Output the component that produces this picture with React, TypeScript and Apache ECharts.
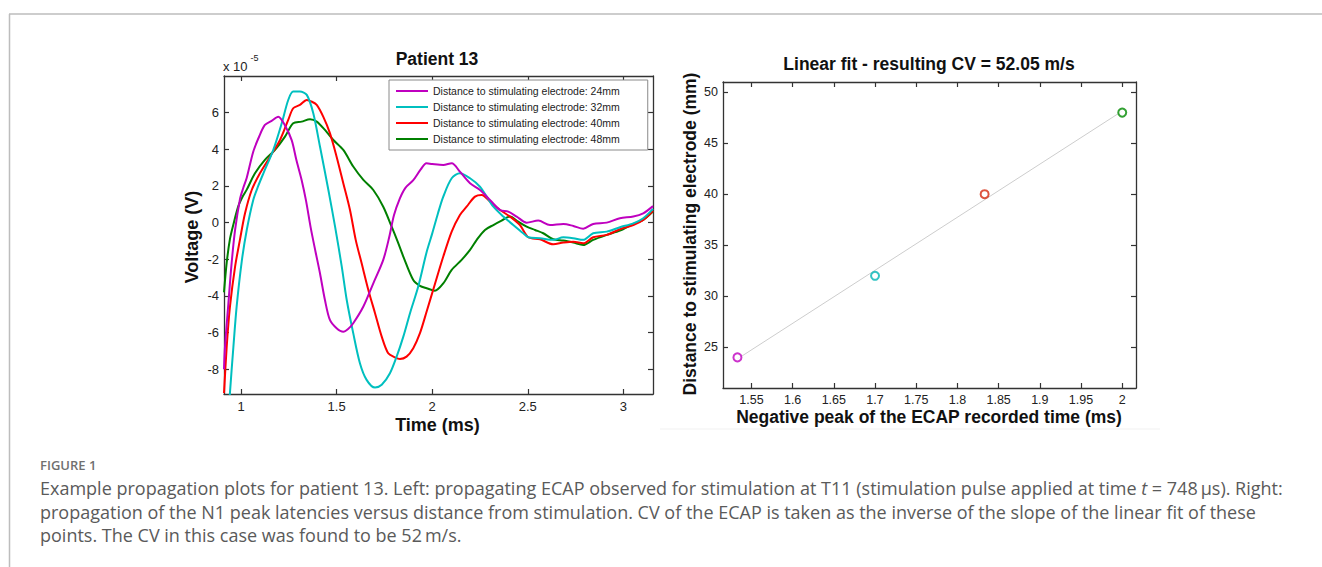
import React, { useEffect, useRef } from "react";
import * as echarts from "echarts";

// ---- Data (voltage values in units of 1e-5 V, time in ms) ----
const seriesNames = [
  "Distance to stimulating electrode: 24mm",
  "Distance to stimulating electrode: 32mm",
  "Distance to stimulating electrode: 40mm",
  "Distance to stimulating electrode: 48mm",
];
const seriesColors = ["#bf00bf", "#00bfbf", "#ff0000", "#008000"];

const ecap24: [number, number][] = [
  [0.911, -8.0], [0.916, -6.8], [0.934, -4.4], [0.951, -2.2], [0.969, -0.4], [0.995, 1.3], [1.012, 1.9],
  [1.03, 2.45], [1.064, 3.87], [1.095, 4.7], [1.125, 5.33], [1.16, 5.55], [1.195, 5.78], [1.23, 5.3],
  [1.265, 4.5], [1.29, 3.4], [1.317, 2.33], [1.34, 1.2], [1.365, -0.3], [1.39, -1.6], [1.413, -2.76],
  [1.439, -4.22], [1.465, -5.31], [1.5, -5.76], [1.535, -5.95], [1.56, -5.8], [1.587, -5.49], [1.64, -4.58],
  [1.692, -3.31], [1.744, -2.03], [1.775, -0.8], [1.8, 0.4], [1.83, 1.3], [1.86, 1.9], [1.9, 2.3],
  [1.94, 2.9], [1.97, 3.24], [2.0, 3.2], [2.058, 3.15], [2.102, 3.24], [2.145, 2.78], [2.198, 2.15],
  [2.25, 1.78], [2.302, 1.24], [2.355, 0.69], [2.398, 0.6], [2.442, 0.33], [2.494, 0.0], [2.555, 0.11],
  [2.616, -0.13], [2.686, -0.07], [2.738, -0.18], [2.79, -0.33], [2.842, -0.07], [2.913, 0.0], [2.982, 0.24],
  [3.052, 0.33], [3.104, 0.51], [3.155, 0.9],
];
const ecap32: [number, number][] = [
  [0.935, -10.5], [0.942, -9.3], [0.96, -6.8], [0.977, -4.6], [1.004, -2.1], [1.03, -0.4], [1.064, 1.24],
  [1.09, 2.0], [1.117, 2.69], [1.169, 3.97], [1.213, 5.42], [1.247, 6.69], [1.273, 7.15], [1.308, 7.15],
  [1.344, 6.97], [1.378, 5.97], [1.413, 4.15], [1.457, 1.78], [1.492, -0.22], [1.527, -2.4], [1.553, -4.22],
  [1.587, -6.03], [1.622, -7.67], [1.657, -8.58], [1.701, -9.0], [1.736, -8.85], [1.779, -8.22], [1.814, -7.31],
  [1.849, -6.22], [1.884, -4.94], [1.927, -3.49], [1.971, -1.6], [2.0, -0.6], [2.03, 0.5], [2.058, 1.42],
  [2.102, 2.42], [2.145, 2.69], [2.198, 2.42], [2.25, 1.96], [2.285, 1.42], [2.32, 0.87], [2.372, 0.33],
  [2.424, -0.13], [2.476, -0.58], [2.503, -0.8], [2.564, -0.85], [2.633, -0.94], [2.686, -0.8], [2.738, -0.85],
  [2.79, -0.94], [2.842, -0.58], [2.913, -0.49], [2.982, -0.25], [3.052, -0.04], [3.104, 0.24], [3.155, 0.75],
];
const ecap40: [number, number][] = [
  [0.911, -9.3], [0.925, -6.8], [0.942, -4.6], [0.969, -2.4], [0.995, -0.9], [1.021, 0.51], [1.056, 1.78],
  [1.099, 2.69], [1.152, 3.6], [1.204, 4.51], [1.247, 5.6], [1.273, 6.24], [1.308, 6.42], [1.344, 6.69],
  [1.37, 6.6], [1.396, 6.42], [1.43, 5.78], [1.465, 4.88], [1.5, 3.6], [1.535, 2.15], [1.57, 0.69],
  [1.6, -0.94], [1.631, -2.22], [1.666, -3.67], [1.701, -4.94], [1.736, -6.22], [1.77, -7.13], [1.805, -7.35],
  [1.831, -7.44], [1.866, -7.31], [1.901, -6.85], [1.936, -6.03], [1.971, -4.85], [2.01, -3.5], [2.058, -1.85],
  [2.102, -0.49], [2.145, 0.42], [2.18, 0.87], [2.224, 1.42], [2.259, 1.51], [2.302, 1.15], [2.355, 0.69],
  [2.407, 0.33], [2.459, -0.13], [2.503, -0.8], [2.564, -0.91], [2.633, -1.18], [2.686, -1.09], [2.738, -1.04],
  [2.79, -1.13], [2.842, -0.8], [2.913, -0.67], [2.982, -0.36], [3.052, -0.13], [3.104, 0.15], [3.155, 0.65],
];
const ecap48: [number, number][] = [
  [0.911, -3.8], [0.925, -2.2], [0.942, -0.9], [0.96, -0.1], [0.986, 0.9], [1.01, 1.45], [1.03, 1.8],
  [1.073, 2.69], [1.125, 3.42], [1.178, 3.97], [1.23, 4.69], [1.273, 5.42], [1.317, 5.51], [1.361, 5.64],
  [1.396, 5.51], [1.439, 5.06], [1.483, 4.51], [1.535, 3.97], [1.587, 3.06], [1.64, 2.33], [1.692, 1.78],
  [1.744, 0.87], [1.788, -0.22], [1.82, -1.05], [1.849, -1.85], [1.901, -3.13], [1.936, -3.45], [1.971, -3.58],
  [2.014, -3.71], [2.058, -3.31], [2.102, -2.58], [2.154, -2.03], [2.198, -1.49], [2.233, -0.94], [2.276, -0.4],
  [2.32, -0.13], [2.363, 0.11], [2.407, 0.33], [2.45, 0.05], [2.494, -0.22], [2.538, -0.4], [2.581, -0.58],
  [2.633, -0.91], [2.686, -0.98], [2.738, -1.09], [2.79, -1.22], [2.842, -0.94], [2.913, -0.67], [2.982, -0.44],
  [3.052, -0.07], [3.104, 0.15], [3.155, 0.6],
];

const leftXTicks = [1, 1.5, 2, 2.5, 3];
const leftYTicks = [-8, -6, -4, -2, 0, 2, 4, 6];

// Right panel: negative peak time (ms) vs distance (mm)
const peakTimes = [1.533, 1.7, 1.833, 2.0];
const distances = [24, 32, 40, 48];
const pointColors = ["#bf00bf", "#00b4b4", "#d42a10", "#008a00"];
const fitLine: [number, number][] = [[1.533, 23.85], [2.0, 48.15]];
const rightXTicks = [1.55, 1.6, 1.65, 1.7, 1.75, 1.8, 1.85, 1.9, 1.95, 2];
const rightYTicks = [25, 30, 35, 40, 45, 50];

const FONT = "'Liberation Sans', Arial, sans-serif";
const CAP_FONT = "'Open Sans', sans-serif";
const AX = "#333";

function boxAxes(gridIndex: number, min: number, max: number, ticks: number[], dim: "x" | "y", fontSize: number, margin: number) {
  const common = {
    gridIndex,
    type: "value",
    min,
    max,
    splitLine: { show: false },
    axisLine: { show: true, onZero: false, lineStyle: { color: AX, width: 1.3 } },
    axisTick: { show: true, inside: true, length: 5, customValues: ticks, lineStyle: { color: AX, width: 1.2 } },
  };
  return [
    {
      ...common,
      position: dim === "x" ? "bottom" : "left",
      axisLabel: { show: true, customValues: ticks, fontSize, fontFamily: FONT, color: "#222", margin },
    },
    {
      ...common,
      position: dim === "x" ? "top" : "right",
      axisLabel: { show: false },
    },
  ];
}

export default function App() {
  const ref = useRef<HTMLDivElement>(null);
  useEffect(() => {
    if (!ref.current) return;
    const chart = echarts.init(ref.current, undefined, { renderer: "svg" });
    const ecaps = [ecap24, ecap32, ecap40, ecap48];
    const titleStyle = { fontSize: 17.5, fontWeight: "bold", fontFamily: FONT, fill: "#111", align: "center", verticalAlign: "middle" };
    const capStyle = { fontSize: 18, fontFamily: CAP_FONT, fill: "#5a5a5a", align: "left", verticalAlign: "middle" };
    const option: any = {
      animation: false,
      backgroundColor: "#ffffff",
      grid: [
        { left: 224, top: 76, width: 429, height: 318 },
        { left: 723, top: 82, width: 413, height: 306 },
      ],
      xAxis: [
        ...boxAxes(0, 0.911, 3.155, leftXTicks, "x", 13, 6),
        ...boxAxes(1, 1.5155, 2.0167, rightXTicks, "x", 12.5, 5),
      ],
      yAxis: [
        ...boxAxes(0, -9.35, 8.0, leftYTicks, "y", 13, 5),
        ...boxAxes(1, 21, 51, rightYTicks, "y", 12.5, 5),
      ],
      legend: {
        data: seriesNames,
        left: 389,
        top: 80,
        orient: "vertical",
        icon: "rect",
        itemWidth: 32,
        itemHeight: 2,
        itemGap: 4,
        padding: [5, 28, 5, 7],
        borderColor: "#8a8a8a",
        borderWidth: 1,
        backgroundColor: "#fff",
        textStyle: { fontSize: 10.5, fontFamily: FONT, color: "#222", lineHeight: 12 },
      },
      series: [
        ...ecaps.map((d, i) => ({
          name: seriesNames[i],
          type: "line",
          xAxisIndex: 0,
          yAxisIndex: 0,
          data: d,
          symbol: "none",
          smooth: 0.3,
          clip: true,
          lineStyle: { color: seriesColors[i], width: 2 },
          itemStyle: { color: seriesColors[i] },
          z: 2 + (3 - i),
        })),
        {
          name: "fit",
          type: "line",
          xAxisIndex: 2,
          yAxisIndex: 2,
          data: fitLine,
          symbol: "none",
          lineStyle: { color: "#cdcdcd", width: 1 },
          z: 2,
        },
        {
          name: "peaks",
          type: "scatter",
          xAxisIndex: 2,
          yAxisIndex: 2,
          symbol: "circle",
          symbolSize: 8,
          data: peakTimes.map((t, i) => ({
            value: [t, distances[i]],
            itemStyle: { color: "#ffffff", borderColor: pointColors[i], borderWidth: 2 },
          })),
          z: 5,
        },
      ],
      graphic: [
        // frame
        { type: "line", shape: { x1: 9, y1: 14, x2: 1322, y2: 14 }, style: { stroke: "#bdbdbd", lineWidth: 1.5 } },
        { type: "line", shape: { x1: 9.5, y1: 14, x2: 9.5, y2: 567 }, style: { stroke: "#bdbdbd", lineWidth: 1.5 } },
        // faint image edge of right panel
        { type: "line", shape: { x1: 660, y1: 429, x2: 1160, y2: 429 }, style: { stroke: "#f1f1f1", lineWidth: 1 } },
        // titles
        { type: "text", x: 437, y: 59, style: { ...titleStyle, text: "Patient 13" } },
        { type: "text", x: 929, y: 64, style: { ...titleStyle, text: "Linear fit - resulting CV = 52.05 m/s" } },
        { type: "text", x: 437.5, y: 425, style: { ...titleStyle, fontSize: 18, text: "Time (ms)" } },
        { type: "text", x: 929, y: 417, style: { ...titleStyle, text: "Negative peak of the ECAP recorded time (ms)" } },
        { type: "text", x: 192, y: 237, rotation: Math.PI / 2, style: { ...titleStyle, fontSize: 18, text: "Voltage (V)" } },
        { type: "text", x: 690, y: 234, rotation: Math.PI / 2, style: { ...titleStyle, text: "Distance to stimulating electrode (mm)" } },
        // exponent
        { type: "text", x: 223, y: 66, style: { text: "x 10", fontSize: 13, fontFamily: FONT, fill: "#222", align: "left", verticalAlign: "middle" } },
        { type: "text", x: 250.5, y: 58, style: { text: "-5", fontSize: 9, fontFamily: FONT, fill: "#222", align: "left", verticalAlign: "middle" } },
        // caption
        { type: "text", x: 40, y: 465, style: { ...capStyle, text: "FIGURE 1", fontSize: 13, fontWeight: 600, fill: "#707070" } },
        {
          type: "text", x: 40, y: 488,
          style: {
            ...capStyle,
            text: "Example propagation plots for patient 13. Left: propagating ECAP observed for stimulation at T11 (stimulation pulse applied at time {i|t} = 748\u2009\u00b5s). Right:",
            rich: { i: { fontStyle: "italic", fontSize: 18, fontFamily: CAP_FONT, fill: "#5a5a5a" } },
          },
        },
        {
          type: "text", x: 40, y: 512,
          style: { ...capStyle, text: "propagation of the N1 peak latencies versus distance from stimulation. CV of the ECAP is taken as the inverse of the slope of the linear fit of these" },
        },
        { type: "text", x: 40, y: 535, style: { ...capStyle, text: "points. The CV in this case was found to be 52\u2009m/s." } },
      ],
    };
    chart.setOption(option);
    return () => chart.dispose();
  }, []);
  return <div ref={ref} style={{ position: "absolute", left: 0, top: 0, width: 1322, height: 567 }} />;
}
